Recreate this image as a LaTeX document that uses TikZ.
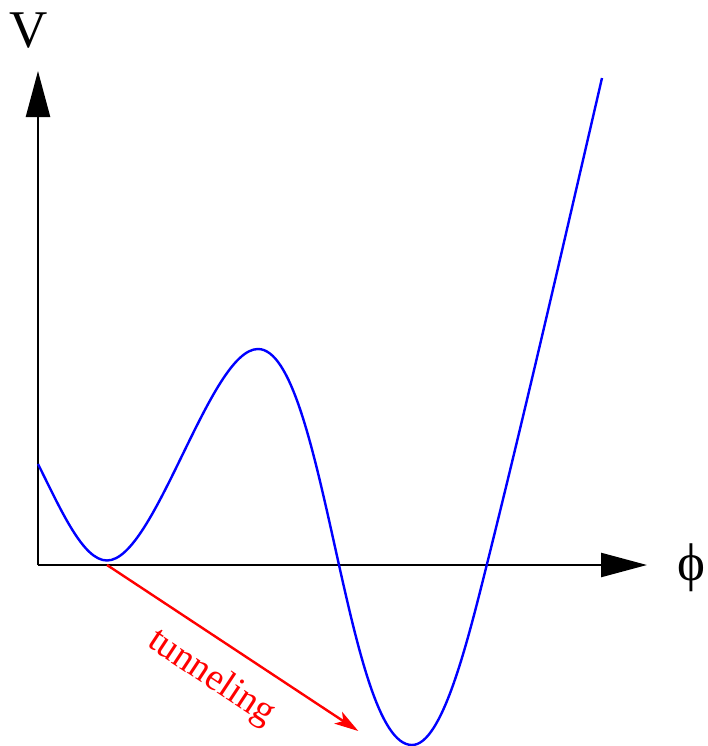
\documentclass[tikz,border=0pt]{standalone}
\usepackage{fontspec}
\setmainfont{Liberation Serif}
\usetikzlibrary{arrows.meta,positioning}

\begin{document}
\begin{tikzpicture}[x=0.5pt,y=0.5pt,
  axisline/.style={line width=1.2pt,-{Triangle[length=23pt,width=12pt]}},
  potline/.style={line width=1.2pt,blue},
  tunarrow/.style={line width=1.2pt,red,-{Stealth[length=12pt,width=7pt,inset=3pt]}},
  axislbl/.style={inner sep=0pt,font=\fontsize{26.5}{30}\selectfont},
  tunlbl/.style={inner sep=0pt,text=red,font=\fontsize{19}{22}\selectfont}
]
  \useasboundingbox (-38,-181) rectangle (670,565);

  % Axes
  \coordinate (orig) at (0,0);
  \coordinate (ytip) at (0,494);
  \coordinate (xtip) at (609,0);
  \draw[axisline] (orig) -- (ytip);
  \draw[axisline] (orig) -- (xtip);
  \node[axislbl,anchor=base] (vlbl) at (-9.5,518) {V};
  \node[axislbl,anchor=base] (philbl) at (653,-15) {\symbol{"03D5}};

  % Potential
  \draw[potline] (0,101) .. controls (23,55) and (45,4.5) .. (69,4.5)
    .. controls (117,4.5) and (172,216) .. (220,216)
    .. controls (286,216) and (308,-180) .. (374,-180)
    .. controls (404,-180) and (429,-79) .. (449,1)
    .. controls (488,157) and (526,323) .. (564,487);

  % Tunneling
  \coordinate (falsevac) at (69,0);
  \coordinate (truevac) at (320.3,-166);
  \draw[tunarrow] (falsevac) -- (truevac);
  \node[tunlbl,rotate=-33.5] (tun) at (173,-113) {tunneling};
\end{tikzpicture}
\end{document}
